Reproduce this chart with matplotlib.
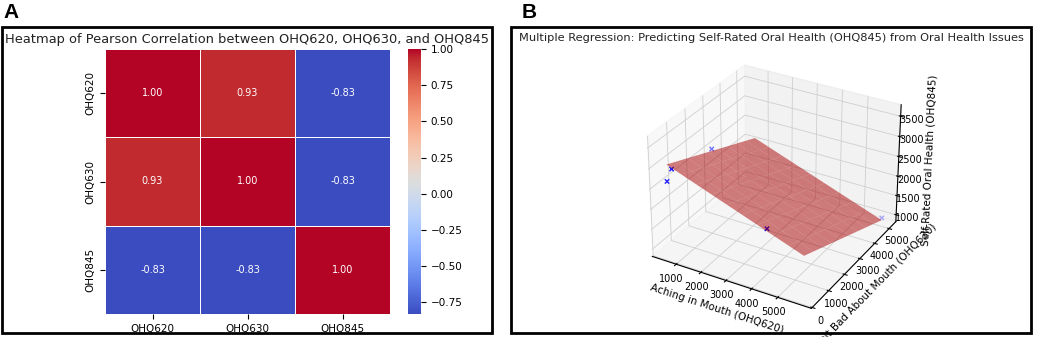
import numpy as np
import matplotlib
matplotlib.use('Agg')
import matplotlib.pyplot as plt
import seaborn as sns
from matplotlib.patches import Rectangle

# panel A: correlation matrix
labels = ['OHQ620', 'OHQ630', 'OHQ845']
corr = np.array([[1.00, 0.93, -0.83],
                 [0.93, 1.00, -0.83],
                 [-0.83, -0.83, 1.00]])

# panel B: points
ohq620 = [690, 530, 627, 4220, 5790]
ohq630 = [302, 247, 2600, 523, 5334]
ohq845 = [3000, 2690, 2690, 2130, 880]
# fitted plane: z = b0 + b1*x + b2*y
b0, b1, b2 = 3274, -0.23, -0.21
xticks3d = [1000, 2000, 3000, 4000, 5000]

fig = plt.figure(figsize=(10.4, 3.37), dpi=100)

# panel borders
for x0, w in [(2/1040, 490/1040), (511/1040, 520/1040)]:
	fig.patches.append(Rectangle((x0, 4/337), w, 306/337, transform=fig.transFigure,
	                             fill=False, ec='black', lw=2))
fig.text(11.5/1040, 1-12.5/337, 'A', fontsize=15, fontweight='bold', va='center', ha='center',
         family='Liberation Sans')
fig.text(529/1040, 1-12.5/337, 'B', fontsize=15, fontweight='bold', va='center', ha='center',
         family='Liberation Sans')

ax1 = fig.add_axes([105/1040, 23/337, 285/1040, 265/337])
cax = fig.add_axes([408/1040, 23/337, 13/1040, 265/337])
sns.heatmap(corr, annot=True, fmt='.2f', cmap='coolwarm', linewidths=0.5,
            xticklabels=labels, yticklabels=labels, ax=ax1, cbar_ax=cax,
            annot_kws={'fontsize': 7})
ax1.tick_params(labelsize=7.5)
cax.tick_params(labelsize=7.5)
fig.text(247/1040, 1-39/337, 'Heatmap of Pearson Correlation between OHQ620, OHQ630, and OHQ845',
         fontsize=9.4, ha='center', va='center', color='#222222')

# panel B: 3D regression
x = np.array(ohq620, dtype=float)
y = np.array(ohq630, dtype=float)
z = np.array(ohq845, dtype=float)
xx, yy = np.meshgrid(np.linspace(x.min(), x.max(), 10), np.linspace(y.min(), y.max(), 10))
zz = b0 + b1*xx + b2*yy

plt.rcParams['grid.color'] = '#cfcfcf'
plt.rcParams['grid.linewidth'] = 0.6
ax2 = fig.add_axes([585/1040, 0.032, 375/1040, 0.84], projection='3d', computed_zorder=False)
ax2.scatter(x, y, z, c='blue', marker='x', s=10, linewidths=1, zorder=1)
ax2.plot_surface(xx, yy, zz, color='red', alpha=0.5, zorder=2)
ax2.set_xlim(20, 6270)
ax2.set_ylim(-50, 5480)
ax2.set_zlim(820, 3780)
ax2.set_xticks(xticks3d)
ax2.set_xlabel('Aching in Mouth (OHQ620)', fontsize=7.5, labelpad=-7)
ax2.set_ylabel('Felt Bad About Mouth (OHQ630)', fontsize=7.5, labelpad=-7)
ax2.set_zlabel('Self-Rated Oral Health (OHQ845)', fontsize=7.5, labelpad=-7)
ax2.tick_params(labelsize=7, pad=-3)
fig.text(771/1040, 1-38/337, 'Multiple Regression: Predicting Self-Rated Oral Health (OHQ845) from Oral Health Issues',
         fontsize=8.2, ha='center', va='center', color='#222222')

fig.savefig('out.png', dpi=100)
